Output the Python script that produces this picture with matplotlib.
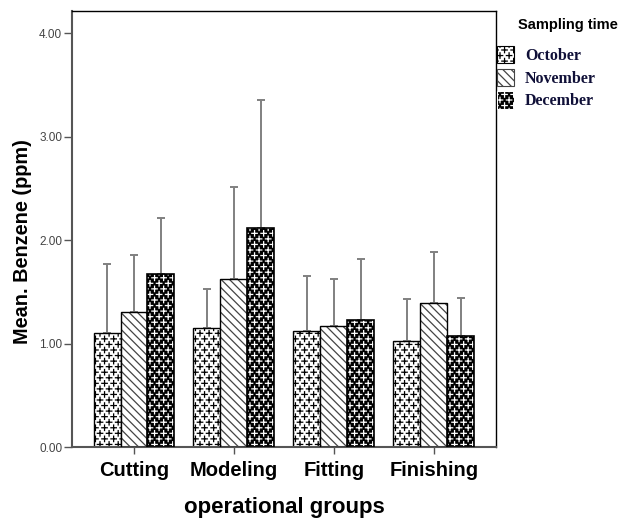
import numpy as np
import matplotlib
matplotlib.use("Agg")
import matplotlib.pyplot as plt
from matplotlib import hatch as mhatch
from matplotlib.path import Path
from matplotlib.patches import Patch

# ---- data ----
groups = ["Cutting", "Modeling", "Fitting", "Finishing"]
months = ["October", "November", "December"]
october = [1.11, 1.15, 1.13, 1.03]
november = [1.31, 1.63, 1.17, 1.40]
december = [1.68, 2.12, 1.23, 1.08]
october_err = [0.66, 0.38, 0.53, 0.40]
november_err = [0.55, 0.89, 0.46, 0.49]
december_err = [0.54, 1.24, 0.59, 0.36]
yticks = [0.0, 1.0, 2.0, 3.0, 4.0]


# ---- small staggered "+" hatch pattern (used for the 'o' hatch symbol) ----
class PlusHatch(mhatch.HatchPatternBase):
    NCOLS = 11
    NROWS = 18
    ARM = 0.3

    def __init__(self, hatch, density):
        self.active = hatch.count('o') > 0
        if not self.active:
            self.num_vertices = 0
            return
        nr, nc = self.NROWS, self.NCOLS
        n_even = (nr // 2 + 1) * (nc + 1)
        n_odd = (nr // 2) * nc
        self.num_vertices = (n_even + n_odd) * 4

    def set_vertices_and_codes(self, vertices, codes):
        nr, nc = self.NROWS, self.NCOLS
        a = self.ARM / nc
        k = 0
        for r in range(nr + 1):
            y = r / nr
            if r % 2 == 0:
                xs = [c / nc for c in range(nc + 1)]
            else:
                xs = [(c + 0.5) / nc for c in range(nc)]
            for xc in xs:
                vertices[k:k + 4] = [[xc - a, y], [xc + a, y], [xc, y - a], [xc, y + a]]
                codes[k:k + 4] = [Path.MOVETO, Path.LINETO, Path.MOVETO, Path.LINETO]
                k += 4


mhatch._hatch_types = [PlusHatch if c is mhatch.SmallCircles else c
                       for c in mhatch._hatch_types]
plt.rcParams['hatch.linewidth'] = 0.9

fig = plt.figure(figsize=(6.23, 5.19), dpi=100)
ax = fig.add_axes([0.1156, 0.1378, 0.796 - 0.1156, 0.9794 - 0.1378])

x = np.arange(len(groups))
w = 0.27
series = [october, november, december]
errs = [october_err, november_err, december_err]
offsets = [-w, 0, w]

# error bars (one-sided, upward)
for vals, e, off in zip(series, errs, offsets):
    _, caps, lines = ax.errorbar(x + off, vals, yerr=[np.zeros(len(e)), e], fmt='none',
                                 ecolor='#808080', elinewidth=1.4, capsize=3.2,
                                 capthick=1.4, zorder=1)
    for c in caps:
        c.set_color('#333333')

# October: white, black crosses
ax.bar(x + offsets[0], october, w, facecolor='white', edgecolor='black',
       hatch='o', linewidth=1.0, zorder=2)
# November: white, diagonal lines
ax.bar(x + offsets[1], november, w, facecolor='white', edgecolor='#444444',
       hatch='\\\\\\\\', linewidth=0, zorder=2)
ax.bar(x + offsets[1], november, w, fill=False, edgecolor='black', linewidth=1.0, zorder=3)
# December: black, white crosses
ax.bar(x + offsets[2], december, w, facecolor='black', edgecolor='white',
       hatch='o', linewidth=0, zorder=2)
ax.bar(x + offsets[2], december, w, fill=False, edgecolor='black', linewidth=1.2, zorder=3)

ax.set_xlim(-0.62, 3.62)
ax.set_ylim(0, 4.22)
ax.set_yticks(yticks)
ax.set_yticklabels([f"{v:.2f}" for v in yticks], fontsize=8.5, color='#444444',
                   family='Liberation Sans')
ax.set_xticks(x)
ax.set_xticklabels(groups, fontsize=14.5, fontweight='bold', family='Liberation Sans')
ax.tick_params(axis='y', length=6, width=1, color='#555555', pad=1)
ax.tick_params(axis='x', length=5, width=1, color='#555555', pad=5)

for s in ['left', 'bottom']:
    ax.spines[s].set_color('#555555')
    ax.spines[s].set_linewidth(1.5)
for s in ['top', 'right']:
    ax.spines[s].set_color('black')
    ax.spines[s].set_linewidth(1.0)

ax.set_ylabel("Mean. Benzene (ppm)", fontsize=14.3, fontweight='bold',
              family='Liberation Sans')
ax.yaxis.set_label_coords(-0.094, 0.471)
ax.set_xlabel("operational groups", fontsize=16, fontweight='bold',
              family='Liberation Sans', labelpad=12)

handles = [
    Patch(facecolor='white', edgecolor='black', hatch='o', linewidth=0.8),
    Patch(facecolor='white', edgecolor='#444444', hatch='\\\\\\\\', linewidth=0.8),
    Patch(facecolor='black', edgecolor='white', hatch='o', linewidth=0.8),
]
fig.text(568 / 623, 1 - 25 / 519, "Sampling time", ha='center', va='center',
         fontsize=10.5, fontweight='bold', family='Liberation Sans')
leg = fig.legend(handles, months, loc='upper left', bbox_to_anchor=(0.798, 0.912),
                 frameon=False,
                 prop={'family': 'Liberation Serif', 'weight': 'bold', 'size': 11.5},
                 handlelength=1.05, handleheight=1.3, handletextpad=0.7, labelspacing=0.3,
                 borderpad=0, borderaxespad=0)
for t in leg.get_texts():
    t.set_color('#101038')

fig.savefig("out.png", dpi=100)
